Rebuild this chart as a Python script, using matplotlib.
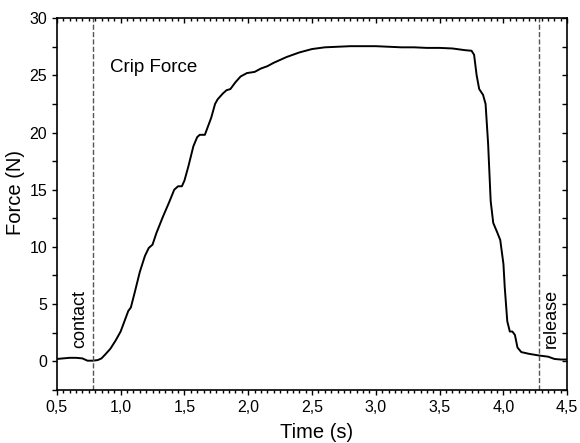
import numpy as np
import matplotlib.pyplot as plt
from matplotlib.collections import LineCollection
from matplotlib.ticker import MultipleLocator, FuncFormatter

plt.rcParams['font.family'] = ['Liberation Sans', 'DejaVu Sans']

# Grip force trace
time_s = [0.50, 0.55, 0.60, 0.65, 0.70, 0.74, 0.78, 0.82, 0.85, 0.88, 0.92, 0.96,
          1.00, 1.03, 1.06, 1.08, 1.11, 1.15, 1.19, 1.22, 1.25, 1.28, 1.33, 1.38,
          1.42, 1.45, 1.48, 1.50, 1.53, 1.57, 1.60, 1.62, 1.66, 1.68, 1.71, 1.74,
          1.76, 1.80, 1.83, 1.86, 1.90, 1.94, 1.99, 2.05, 2.10, 2.15, 2.20, 2.30,
          2.40, 2.50, 2.60, 2.70, 2.80, 2.90, 3.00, 3.10, 3.20, 3.30, 3.40, 3.50,
          3.60, 3.70, 3.75, 3.77, 3.79, 3.81, 3.84, 3.86, 3.88, 3.90, 3.92, 3.95,
          3.975, 4.00, 4.01, 4.03, 4.05, 4.07, 4.09, 4.11, 4.14, 4.20, 4.28, 4.35,
          4.40, 4.45, 4.50]
force_n = [0.20, 0.25, 0.30, 0.30, 0.25, 0.05, 0.05, 0.10, 0.25, 0.60, 1.10, 1.80,
           2.60, 3.50, 4.40, 4.70, 6.00, 7.80, 9.20, 9.90, 10.2, 11.2, 12.6, 13.9,
           15.0, 15.3, 15.3, 15.8, 17.0, 18.8, 19.6, 19.8, 19.8, 20.4, 21.3, 22.5,
           22.9, 23.4, 23.7, 23.8, 24.4, 24.9, 25.2, 25.3, 25.6, 25.8, 26.1, 26.6,
           27.0, 27.3, 27.45, 27.5, 27.55, 27.55, 27.55, 27.5, 27.45, 27.45, 27.4, 27.4,
           27.35, 27.2, 27.15, 26.8, 25.0, 23.8, 23.3, 22.5, 19.0, 14.0, 12.1, 11.3,
           10.6, 8.5, 6.5, 3.5, 2.6, 2.6, 2.3, 1.2, 0.8, 0.65, 0.5, 0.4,
           0.2, 0.15, 0.15]

contact_t = 0.78
release_t = 4.28

fig = plt.figure(figsize=(5.8, 4.43), dpi=100)
ax = fig.add_axes([0.098, 0.12, 0.88, 0.839])

ax.plot(time_s, force_n, color='black', linewidth=1.4)
ax.axvline(contact_t, color='#555555', linestyle='--', linewidth=1)
ax.axvline(release_t, color='#555555', linestyle='--', linewidth=1)

ax.text(0.916, 25.7, 'Crip Force', fontsize=13.5, va='center', ha='left')
ax.text(0.68, 3.7, 'contact', fontsize=13, rotation=90, va='center', ha='center')
ax.text(4.375, 3.7, 'release', fontsize=13, rotation=90, va='center', ha='center')

ax.set_xlim(0.5, 4.5)
ax.set_ylim(-2.5, 30)
ax.xaxis.set_major_locator(MultipleLocator(0.5))
ax.yaxis.set_major_locator(MultipleLocator(5))
ax.xaxis.set_major_formatter(FuncFormatter(lambda v, p: f'{v:.1f}'.replace('.', ',')))
ax.tick_params(which='both', length=0, pad=7, labelsize=11.5)
for sp in ax.spines.values():
    sp.set_linewidth(1.2)

# tick marks drawn as plain segments: out on bottom/left, in on top/right
ax_w = 0.88 * 580
ax_h = 0.839 * 443
x_major = np.arange(0.5, 4.51, 0.5)
x_minor = np.arange(0.5, 4.51, 0.05)
y_minor = np.arange(-2.5, 30.1, 2.5)

segs = []
for x in x_minor:
    n = 5 if np.isclose(x_major, x).any() else 3
    segs.append([(x, 0), (x, -n / ax_h)])
    segs.append([(x, 1), (x, 1 - n / ax_h)])
ax.add_collection(LineCollection(segs, colors='black', linewidths=1,
                                 transform=ax.get_xaxis_transform(), clip_on=False))
segs = []
for y in y_minor:
    segs.append([(0, y), (-5 / ax_w, y)])
    segs.append([(1, y), (1 - 5 / ax_w, y)])
ax.add_collection(LineCollection(segs, colors='black', linewidths=1,
                                 transform=ax.get_yaxis_transform(), clip_on=False))

ax.set_xlabel('Time (s)', fontsize=14.5)
ax.set_ylabel('Force (N)', fontsize=14.5)
ax.xaxis.set_label_coords(0.508, -0.09)
ax.yaxis.set_label_coords(-0.063, 0.53)

fig.savefig('out.png', dpi=100)
